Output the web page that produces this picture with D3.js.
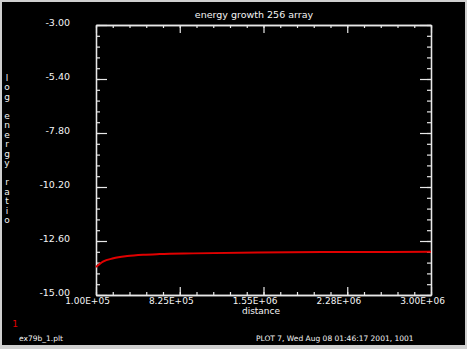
<!DOCTYPE html>
<html>
<head>
<meta charset="utf-8">
<script src="https://cdn.jsdelivr.net/npm/d3@7"></script>
<style>
  body { margin: 0; background: #cfcfcf; }
  svg { display: block; }
  text { fill: #f4f4f4; font-family: "DejaVu Sans", sans-serif; }
</style>
</head>
<body>
<svg id="chart" width="467" height="349"></svg>
<script>
// distance along the run, and log energy ratio
var distance = [1e5, 1.6e5, 2.5e5, 3.7e5, 5.1e5, 6.5e5, 9.4e5, 1.5e6, 2.2e6, 3e6];
var logRatio = [-13.76, -13.52, -13.37, -13.27, -13.21, -13.18, -13.15, -13.11, -13.09, -13.08];

var xTicks = [1e5, 8.25e5, 1.55e6, 2.275e6, 3e6];
var xTickLabels = ["1.00E+05", "8.25E+05", "1.55E+06", "2.28E+06", "3.00E+06"];
var yTicks = [-3, -5.4, -7.8, -10.2, -12.6, -15];
var yTickLabels = ["-3.00", "-5.40", "-7.80", "-10.20", "-12.60", "-15.00"];
var yLabel = "log energy ratio";

var svg = d3.select('#chart');

const mLeft = 96, mRight = 431, mTop = 25, mBottom = 295;

svg.append('rect')
  .attr('x', 2).attr('y', 2)
  .attr('width', 463).attr('height', 343)
  .attr('fill', 'black');

var x = d3.scaleLinear().domain([1e5, 3e6]).range([mLeft, mRight]);
var y = d3.scaleLinear().domain([-3, -15]).range([mTop, mBottom]);

// minor ticks: 5 intervals between majors
var xMinor = d3.range(0, 21).map(i => 1e5 + i * 1.45e5);
var yMinor = d3.range(0, 26).map(i => -3 - i * 0.48);

function styleAxis(g) {
  g.selectAll('path').attr('stroke', '#e8e8e8').attr('stroke-width', 1.3);
  g.selectAll('line').attr('stroke', '#e8e8e8').attr('stroke-width', 1.2);
  g.selectAll('text').remove();
}

// bottom / top
svg.append('g').attr('transform', `translate(0,${mBottom})`)
  .call(d3.axisBottom(x).tickValues(xMinor).tickSize(-3).tickSizeOuter(0)).call(styleAxis);
svg.append('g').attr('transform', `translate(0,${mBottom})`)
  .call(d3.axisBottom(x).tickValues(xTicks).tickSize(-8).tickSizeOuter(0)).call(styleAxis);
svg.append('g').attr('transform', `translate(0,${mTop})`)
  .call(d3.axisTop(x).tickValues(xMinor).tickSize(-3).tickSizeOuter(0)).call(styleAxis);
svg.append('g').attr('transform', `translate(0,${mTop})`)
  .call(d3.axisTop(x).tickValues(xTicks).tickSize(-8).tickSizeOuter(0)).call(styleAxis);
// left / right
svg.append('g').attr('transform', `translate(${mLeft},0)`)
  .call(d3.axisLeft(y).tickValues(yMinor).tickSize(-4).tickSizeOuter(0)).call(styleAxis);
svg.append('g').attr('transform', `translate(${mLeft},0)`)
  .call(d3.axisLeft(y).tickValues(yTicks).tickSize(-11).tickSizeOuter(0)).call(styleAxis);
svg.append('g').attr('transform', `translate(${mRight},0)`)
  .call(d3.axisRight(y).tickValues(yMinor).tickSize(-4).tickSizeOuter(0)).call(styleAxis);
svg.append('g').attr('transform', `translate(${mRight},0)`)
  .call(d3.axisRight(y).tickValues(yTicks).tickSize(-11).tickSizeOuter(0)).call(styleAxis);

// tick labels
svg.selectAll('.xlab')
  .data(xTicks)
  .enter().append('text')
    .attr('x', d => x(d) - 8.5)
    .attr('y', 304)
    .attr('text-anchor', 'middle')
    .attr('font-size', 9)
    .text((d, i) => xTickLabels[i]);

svg.selectAll('.ylab')
  .data(yTicks)
  .enter().append('text')
    .attr('x', 70)
    .attr('y', d => y(d) + 1)
    .attr('text-anchor', 'end')
    .attr('font-size', 9.5)
    .text((d, i) => yTickLabels[i]);

svg.append('text')
  .attr('x', 254).attr('y', 18)
  .attr('text-anchor', 'middle')
  .attr('font-size', 9.5)
  .text('energy growth 256 array');

svg.append('text')
  .attr('x', 261).attr('y', 314)
  .attr('text-anchor', 'middle')
  .attr('font-size', 9)
  .text('distance');

// stacked vertical axis label
svg.selectAll('.ychar')
  .data(yLabel.split(''))
  .enter().append('text')
    .attr('x', 7)
    .attr('y', (d, i) => 81 + i * 9.47)
    .attr('text-anchor', 'middle')
    .attr('font-size', 9)
    .text(d => d);

// curve
var line = d3.line()
  .x((d, i) => x(distance[i]))
  .y(d => y(d))
  .curve(d3.curveMonotoneX);

svg.append('path')
  .datum(logRatio)
  .attr('fill', 'none')
  .attr('stroke', '#e00000')
  .attr('stroke-width', 2)
  .attr('stroke-linejoin', 'round')
  .attr('d', line);

// footer
svg.append('text')
  .attr('x', 15).attr('y', 327)
  .attr('text-anchor', 'middle')
  .attr('font-size', 9)
  .style('fill', '#e00000')
  .text('1');

svg.append('text')
  .attr('x', 19).attr('y', 341)
  .attr('font-size', 7.5)
  .text('ex79b_1.plt');

svg.append('text')
  .attr('x', 256).attr('y', 341)
  .attr('font-size', 7.5)
  .text('PLOT 7, Wed Aug 08 01:46:17 2001, 1001');
</script>
</body>
</html>
